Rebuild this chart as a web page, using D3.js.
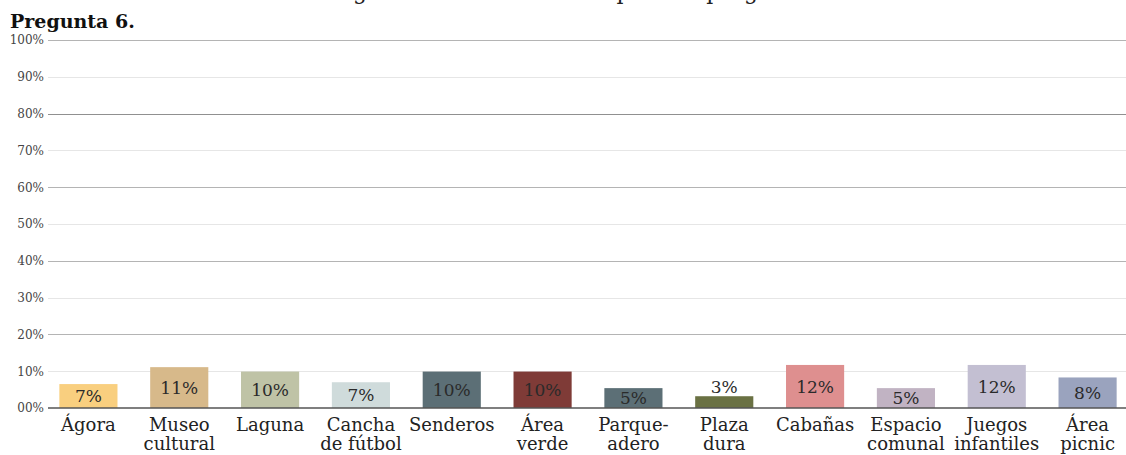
<!DOCTYPE html>
<html>
<head>
<meta charset="utf-8">
<script src="https://d3js.org/d3.v7.min.js"></script>
<style>
  body { margin: 0; background: #fff; }
  text { font-family: "DejaVu Serif", serif; }
</style>
</head>
<body>
<div id="chart"></div>
<script>
// chart data
const categories = ["Ágora", "Museo cultural", "Laguna", "Cancha de fútbol", "Senderos", "Área verde",
  "Parque- adero", "Plaza dura", "Cabañas", "Espacio comunal", "Juegos infantiles", "Área picnic"];
// split of each label into lines
const labelLines = [["Ágora"], ["Museo", "cultural"], ["Laguna"], ["Cancha", "de fútbol"], ["Senderos"],
  ["Área", "verde"], ["Parque-", "adero"], ["Plaza", "dura"], ["Cabañas"], ["Espacio", "comunal"],
  ["Juegos", "infantiles"], ["Área", "picnic"]];
const values = [6.5, 11.1, 9.9, 7.0, 9.9, 9.9, 5.4, 3.2, 11.7, 5.4, 11.7, 8.3];
const colors = ["#f9cf7f", "#d7b98a", "#bfc3a6", "#cfdbdb", "#5c6f76", "#7f3b37",
  "#5c6f76", "#6a7143", "#de8f8f", "#c1b3c3", "#c3bfd2", "#9aa3be"];
const yTicks = [0, 10, 20, 30, 40, 50, 60, 70, 80, 90, 100];
const yTickLabels = ["00%", "10%", "20%", "30%", "40%", "50%", "60%", "70%", "80%", "90%", "100%"];

const width = 1126;
const height = 455;

const svg = d3.select("#chart").append("svg")
    .attr("width", width)
    .attr("height", height);

const x = d3.scaleBand()
    .domain(categories)
    .range([43, 1133])
    .paddingInner(0.36)
    .paddingOuter(0.18);

const y = d3.scaleLinear()
    .domain([0, 100])
    .range([408, 40]);

// caption cut off at the top
svg.append("text")
    .attr("x", 580)
    .attr("y", -1)
    .attr("text-anchor", "middle")
    .attr("font-size", 22)
    .attr("fill", "#222")
    .text("Figura 60. Niveles de aceptación pregunta 6");

svg.append("text")
    .attr("x", 10)
    .attr("y", 28)
    .attr("font-size", 19)
    .attr("font-weight", "bold")
    .attr("fill", "#111")
    .text("Pregunta 6.");

// gridlines
const grid = svg.append("g");
grid.selectAll("line")
    .data(yTicks.filter(d => d > 0))
    .enter().append("line")
        .attr("x1", 48)
        .attr("x2", width)
        .attr("y1", d => Math.round(y(d)) + 0.5)
        .attr("y2", d => Math.round(y(d)) + 0.5)
        .attr("stroke", d => d === 80 ? "#909090" : (d % 20 === 0 ? "#b4b4b4" : "#e6e6e6"))
        .attr("stroke-width", 1);

// y axis labels
const yAxis = svg.append("g")
    .attr("transform", "translate(44,0)")
    .call(d3.axisLeft(y).tickValues(yTicks).tickSize(0).tickPadding(0)
        .tickFormat((d, i) => yTickLabels[i]));
yAxis.select(".domain").remove();
yAxis.selectAll("text")
    .attr("font-size", 12)
    .attr("fill", "#444")
    .attr("dy", "0.32em");

// bars
svg.append("g")
    .selectAll("rect")
    .data(values)
    .enter().append("rect")
        .attr("x", (d, i) => x(categories[i]))
        .attr("y", d => y(d))
        .attr("width", x.bandwidth())
        .attr("height", d => y(0) - y(d))
        .attr("fill", (d, i) => colors[i]);

// value labels
svg.append("g")
    .selectAll("text")
    .data(values)
    .enter().append("text")
        .attr("x", (d, i) => x(categories[i]) + x.bandwidth() / 2)
        .attr("y", d => (y(0) - y(d)) < 18 ? y(d) - 9 : (y(d) + y(0)) / 2)
        .attr("dy", "0.36em")
        .attr("text-anchor", "middle")
        .attr("font-size", 17)
        .attr("fill", "#2a2a2a")
        .text(d => Math.round(d) + "%");

// baseline
svg.append("line")
    .attr("x1", 48)
    .attr("x2", width)
    .attr("y1", y(0))
    .attr("y2", y(0))
    .attr("stroke", "#555")
    .attr("stroke-width", 1.5);

// category labels
const cat = svg.append("g")
    .selectAll("text")
    .data(categories)
    .enter().append("text")
        .attr("x", d => x(d) + x.bandwidth() / 2)
        .attr("y", 431)
        .attr("text-anchor", "middle")
        .attr("font-size", 18)
        .attr("fill", "#222");

cat.selectAll("tspan")
    .data((d, i) => labelLines[i])
    .enter().append("tspan")
        .attr("x", function() { return d3.select(this.parentNode).attr("x"); })
        .attr("dy", (d, i) => i === 0 ? 0 : 18.5)
        .text(d => d);
</script>
</body>
</html>
